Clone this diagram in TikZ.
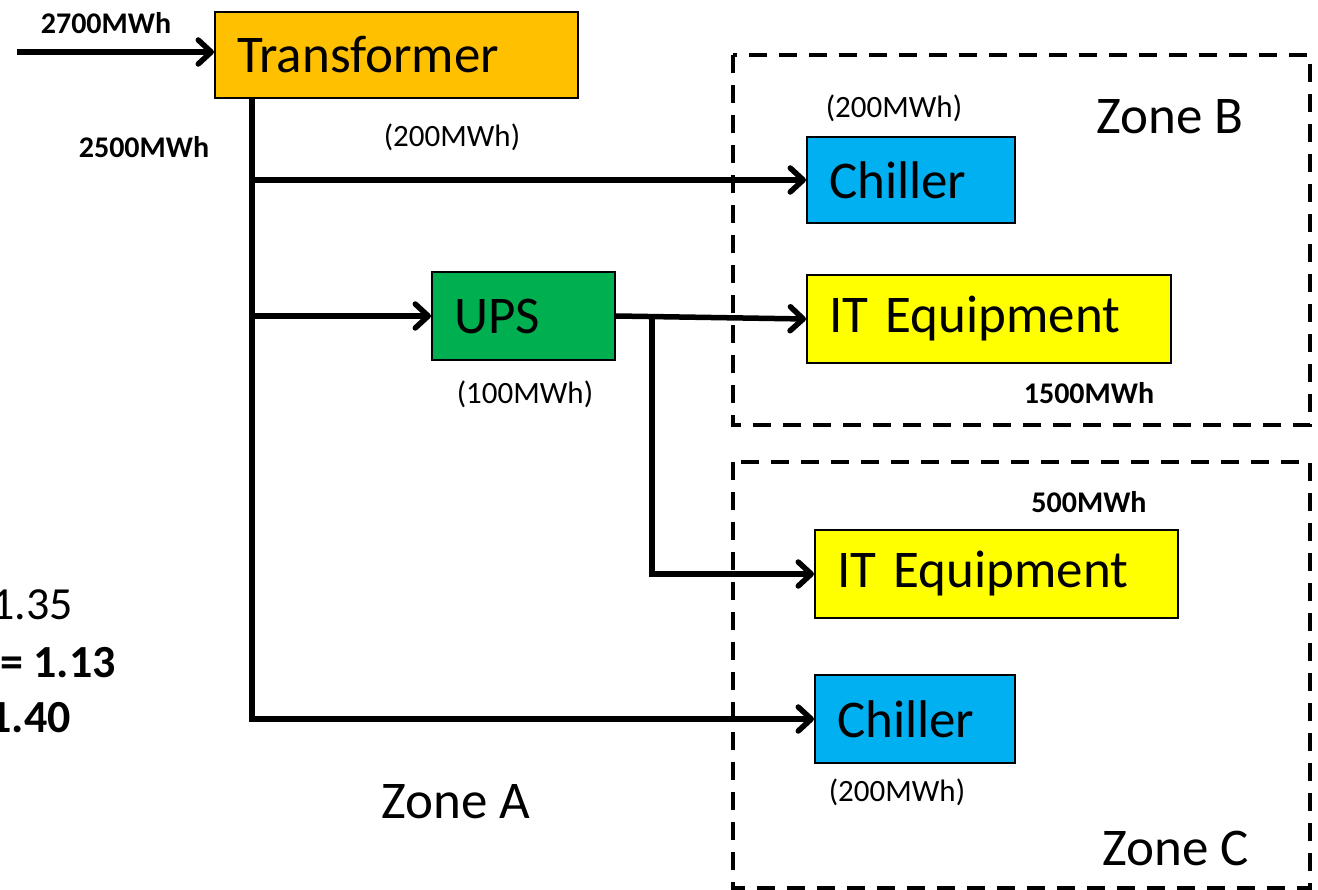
\documentclass[tikz,border=0pt]{standalone}
\usepackage{fontspec}
\setmainfont{Carlito}
\usetikzlibrary{arrows.meta}

\tikzset{
  unit/.style={draw=black, line width=2pt, inner xsep=22pt, inner ysep=0pt, align=left,
    font=\fontsize{53}{58}\selectfont},
  flow/.style={line width=5.5pt, -{Straight Barb[round, length=13pt, width=24pt]}},
  zone/.style={line width=4.5pt, dash pattern=on 18pt off 12pt},
  lbl/.style={inner sep=0pt, font=\fontsize{31}{36}\selectfont},
  lblb/.style={inner sep=0pt, font=\fontsize{30}{36}\selectfont\bfseries},
  big/.style={inner sep=0pt, font=\fontsize{53}{58}\selectfont},
  pue/.style={inner sep=0pt, anchor=east, font=\fontsize{46}{52}\selectfont}
}

\begin{document}
\begin{tikzpicture}[x=1pt,y=1pt,yscale=-1,xscale=1]
        \useasboundingbox (0,0) rectangle (1318,890);

        %Zones B and C
        \draw[zone] (733,55) rectangle (1310,425);
        \draw[zone] (733,462) rectangle (1310,888);

        %Boxes
        \node[unit, fill={rgb,255:red,255;green,192;blue,0}, text width=319pt, minimum height=86pt] (tr) at (396.5,55) {Transformer};
        \node[unit, fill={rgb,255:red,0;green,176;blue,240}, text width=164pt, minimum height=86pt] (chilB) at (911,180) {Chiller};
        \node[unit, fill={rgb,255:red,0;green,176;blue,80}, text width=139pt, minimum height=88pt] (ups) at (523.5,316) {UPS};
        \node[unit, fill={rgb,255:red,255;green,255;blue,0}, text width=320pt, minimum height=88pt] (itB) at (989,319) {IT Equipment};
        \node[unit, fill={rgb,255:red,255;green,255;blue,0}, text width=319pt, minimum height=88pt] (itC) at (996.5,574) {IT Equipment};
        \node[unit, fill={rgb,255:red,0;green,176;blue,240}, text width=156pt, minimum height=88pt] (chilC) at (915,719) {Chiller};

        %Feeds
        \coordinate (in) at (17,52);
        \coordinate (tap) at (252,98);
        \coordinate (split) at (652,318);
        \draw[flow] (in) -- (in -| tr.west);
        \draw[flow] (tap) |- (chilC.west);
        \draw[flow] (tap |- chilB.west) -- (chilB.west);
        \draw[flow] (tap |- ups.west) -- (ups.west);
        \draw[flow] (ups.east) -- (itB.west);
        \draw[flow] (split) |- (itC.west);

        % Text Node
        \node[lblb] (eIn) at (106,23) {2700MWh};
        % Text Node
        \node[lblb] (eTr) at (144,147) {2500MWh};
        % Text Node
        \node[lbl] (lossTr) at (452,137) {(200MWh)};
        % Text Node
        \node[lbl] (eChilB) at (894,108) {(200MWh)};
        % Text Node
        \node[lbl] (lossUps) at (525,394) {(100MWh)};
        % Text Node
        \node[lblb] (eItB) at (1089,393) {1500MWh};
        % Text Node
        \node[lblb] (eItC) at (1089,502) {500MWh};
        % Text Node
        \node[lbl] (eChilC) at (897,792) {(200MWh)};
        % Text Node
        \node[big] (zA) at (456,802) {Zone A};
        \node[big] (zB) at (1170,117) {Zone B};
        \node[big] (zC) at (1176,848) {Zone C};
        % Text Node
        \node[pue] (pue1) at (73,605) {1.35};
        \node[pue, font=\fontsize{46}{52}\selectfont\bfseries] (pue2) at (116,663) {= 1.13};
        \node[pue, font=\fontsize{46}{52}\selectfont\bfseries] (pue3) at (71,718) {1.40};
\end{tikzpicture}
\end{document}
